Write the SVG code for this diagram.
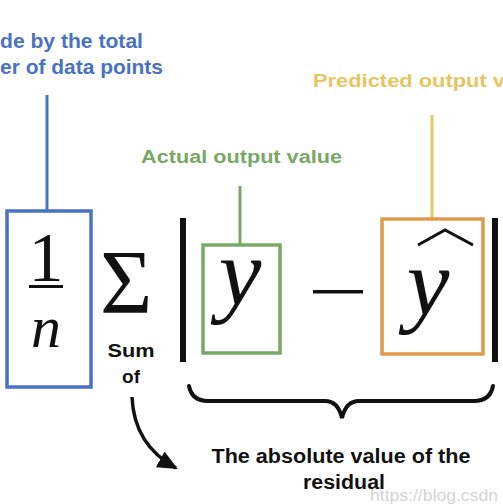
<svg xmlns="http://www.w3.org/2000/svg" width="503" height="504" viewBox="0 0 503 504">
<defs>
<style>
.lbl{font-family:"Liberation Sans","Open Sans",Arial,sans-serif;font-weight:700;}
.math{font-family:"Liberation Serif","Times New Roman",serif;fill:#111;}
.box{fill:none;stroke-width:3.5;}
</style>
<marker id="ah" markerWidth="20" markerHeight="18" refX="18" refY="9" orient="auto" markerUnits="userSpaceOnUse" viewBox="0 0 20 18">
<path d="M0,0 L20,9 L0,18 Z" fill="#111"/>
</marker>
</defs>
<rect width="503" height="504" fill="#fff"/>

<g id="label-divide">
<text class="lbl" x="0" y="48" font-size="21" fill="#4a72c4" textLength="143" lengthAdjust="spacingAndGlyphs">de by the total</text>
<text class="lbl" x="0" y="74" font-size="21" fill="#4a72c4" textLength="163" lengthAdjust="spacingAndGlyphs">er of data points</text>
</g>
<g id="label-predicted">
<text class="lbl" x="313" y="87" font-size="18" fill="#e8c563" textLength="192" lengthAdjust="spacingAndGlyphs">Predicted output v</text>
</g>
<g id="label-actual">
<text class="lbl" x="141" y="163" font-size="18" fill="#78a865" textLength="201" lengthAdjust="spacingAndGlyphs">Actual output value</text>
</g>

<g id="connectors">
<line x1="47" y1="95" x2="47" y2="211" stroke="#4a72c4" stroke-width="3"/>
<line x1="240" y1="186" x2="240" y2="244" stroke="#78a865" stroke-width="3"/>
<line x1="432" y1="115" x2="432" y2="219" stroke="#e8c563" stroke-width="3"/>
<path d="M132,397 Q134,445 176,468" fill="none" stroke="#111" stroke-width="3.5" marker-end="url(#ah)"/>
<path d="M189,386 Q192,401 208,401 L325,401 Q338,401 342,418 Q346,401 359,401 L474,401 Q490,401 493,386" fill="none" stroke="#111" stroke-width="4" stroke-linecap="round"/>
</g>

<g id="node-fraction">
<rect class="box" x="7" y="211" width="84" height="176" stroke="#4a72c4"/>
<text class="math" x="46" y="281" font-size="70" text-anchor="middle">1</text>
<rect x="29" y="285" width="34" height="3" fill="#111"/>
<text class="math" x="46" y="347" font-size="60" font-style="italic" text-anchor="middle">n</text>
</g>

<g id="node-sum">
<text class="math" x="100" y="313" font-size="90">Σ</text>
<text class="lbl" x="131" y="357" font-size="19" text-anchor="middle" fill="#111" textLength="47" lengthAdjust="spacingAndGlyphs">Sum</text>
<text class="lbl" x="131" y="383" font-size="19" text-anchor="middle" fill="#111">of</text>
</g>

<g id="node-abs">
<rect x="180" y="218" width="6" height="144" fill="#111"/>
<rect x="492" y="218" width="6" height="144" fill="#111"/>
<rect x="313" y="290" width="50" height="3.5" fill="#111"/>
</g>

<g id="node-actual">
<rect class="box" x="203" y="245" width="77" height="108" stroke="#78a865"/>
<text class="math" x="240" y="305" font-size="96" font-style="italic" text-anchor="middle">y</text>
</g>

<g id="node-predicted">
<rect class="box" x="382" y="219" width="101" height="135" stroke="#e09a4a"/>
<polyline points="418,245 445,230 473,245" fill="none" stroke="#111" stroke-width="3"/>
<text class="math" x="428" y="315" font-size="96" font-style="italic" text-anchor="middle">y</text>
</g>

<g id="label-residual">
<text class="lbl" x="341" y="463" font-size="20" text-anchor="middle" fill="#111" textLength="259" lengthAdjust="spacingAndGlyphs">The absolute value of the</text>
<text class="lbl" x="344" y="489" font-size="20" text-anchor="middle" fill="#111" textLength="82" lengthAdjust="spacingAndGlyphs">residual</text>
</g>

<g id="watermark">
<text x="370" y="501" font-family="Liberation Sans, Arial, sans-serif" font-size="16" fill="#d4d4d4" textLength="128" lengthAdjust="spacingAndGlyphs">https://blog.csdn</text>
</g>
</svg>
